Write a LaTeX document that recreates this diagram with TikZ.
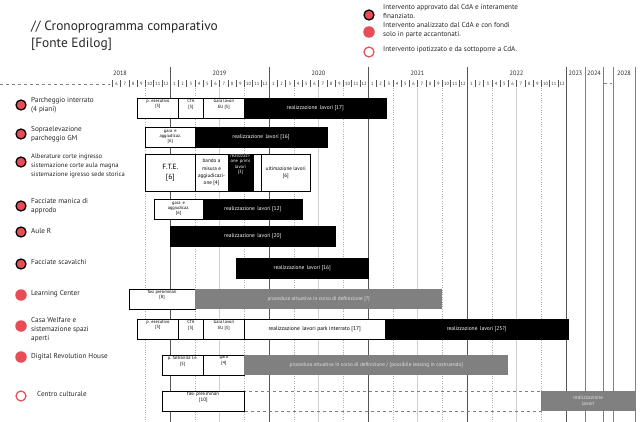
\documentclass[tikz,border=0pt]{standalone}
\usepackage{fontspec}
\setmainfont{PT Sans}
\definecolor{cred}{RGB}{232,76,86}
\definecolor{gbar}{RGB}{128,128,128}
\definecolor{gtext}{RGB}{225,225,225}
\definecolor{ygray}{RGB}{85,85,85}
\definecolor{lgray}{RGB}{175,175,175}
\begin{document}
\begin{tikzpicture}[x=1pt,y=-1pt,
  wbox/.style={draw=black, line width=0.6pt, fill=white, inner sep=0pt, align=center, anchor=west, font=\fontsize{4.5}{5.2}\selectfont, minimum height=20pt},
  bbox/.style={wbox, fill=black, text=white, font=\fontsize{5.5}{6.2}\selectfont},
  gbox/.style={draw=none, fill=gbar, inner sep=0pt, align=center, anchor=west, text=gtext, font=\fontsize{5.3}{6.2}\selectfont, minimum height=20pt},
  ttxt/.style={inner sep=0pt, align=center, anchor=north, font=\fontsize{4.5}{5.4}\selectfont},
  lab/.style={anchor=west, align=left, inner sep=0pt, font=\fontsize{7.2}{9}\selectfont, text=black!85},
  dotA/.style={circle, fill=cred, draw=black, line width=1.3pt, minimum size=10pt, inner sep=0pt},
  dotB/.style={circle, fill=cred, minimum size=11.5pt, inner sep=0pt},
  dotC/.style={circle, fill=white, draw=cred, line width=1.2pt, minimum size=10pt, inner sep=0pt},
  yline/.style={draw=ygray, line width=0.8pt},
  ylineB/.style={draw=gray, line width=0.9pt},
  qdot/.style={draw=lgray, line width=0.4pt, dotted},
  qsol/.style={draw=lgray!60, line width=0.5pt},
  mtick/.style={draw=ygray, line width=0.4pt},
  mlab/.style={inner sep=0pt, font=\fontsize{4.6}{5}\selectfont, text=black!80},
  ylab/.style={inner sep=0pt, font=\fontsize{6.3}{7}\selectfont, text=black!85}
]
\useasboundingbox (0,0) rectangle (640,422);
% title
\node[anchor=west, inner sep=0pt, font=\fontsize{13.4}{15}\selectfont, text=black!85] (title) at (31,27) {// Cronoprogramma comparativo};
\node[anchor=west, inner sep=0pt, font=\fontsize{13.4}{15}\selectfont, text=black!85] (source) at (31,44) {[Fonte Edilog]};
% legend
\node[dotA] (lg1) at (369,15) {};
\node[lab] (lt1) at (383,11) {Intervento approvato dal CdA e interamente\\finanziato.};
\node[dotB] (lg2) at (369,32) {};
\node[lab] (lt2) at (383,30) {Intervento analizzato dal CdA e con fondi\\solo in parte accantonati.};
\node[dotC] (lg3) at (369,52) {};
\node[lab] (lt3) at (383,50) {Intervento ipotizzato e da sottoporre a CdA.};
% grid
\draw[qdot] (145.25,88) -- (145.25,422);
\foreach \Y in {170,269,368,467}{
  \draw[qdot] ({\Y+24.75},88) -- ({\Y+24.75},422);
  \draw[qsol] ({\Y+49.5},88) -- ({\Y+49.5},422);
  \draw[qdot] ({\Y+74.25},88) -- ({\Y+74.25},422);
}
\foreach \X in {170,269,368,467,566}{
  \draw[yline] (\X,67) -- (\X,422);
}
\foreach \X in {585,603,613,635}{
  \draw[ylineB] (\X,67) -- (\X,422);
}
% header
\draw[dashed, gray, line width=0.5pt] (0,84) -- (110,84);
\draw[gray, line width=0.5pt, dash pattern=on 3pt off 3pt] (604,83) -- (612,83);
\foreach \m in {5,...,59}{
  \pgfmathtruncatemacro\mn{mod(\m,12)+1}
  \draw[mtick] ({71+8.25*\m},80.5) -- ++(0,6.5);
  \node[mlab] (mo\m) at ({75.4+8.25*\m},84) {\mn};
}
\node[ylab] (y2018) at (120,73) {2018};
\node[ylab] (y2019) at (219.5,73) {2019};
\node[ylab] (y2020) at (318.5,73) {2020};
\node[ylab] (y2021) at (417.5,73) {2021};
\node[ylab] (y2022) at (516.5,73) {2022};
\node[ylab] (y2023) at (575.5,73) {2023};
\node[ylab] (y2024) at (594,73) {2024};
\node[ylab] (y2028) at (624,73) {2028};
% row labels and dots
\node[dotA] (d1) at (21,105) {};
\node[lab] (l1) at (31,105) {Parcheggio interrato\\(4 piani)};
\node[dotA] (d2) at (21,134) {};
\node[lab] (l2) at (31,134) {Sopraelevazione\\parcheggio GM};
\node[dotA] (d3) at (21,162) {};
\node[lab, font=\fontsize{6.6}{9}\selectfont] (l3) at (31,166) {Alberature corte ingresso\\sistemazione corte aula magna\\sistemazione igresso sede storica};
\node[dotA] (d4) at (21,206) {};
\node[lab] (l4) at (31,206.5) {Facciate manica di\\approdo};
\node[dotA] (d5) at (21,232) {};
\node[lab] (l5) at (31,231) {Aule R};
\node[dotA] (d6) at (21,264) {};
\node[lab] (l6) at (31,262) {Facciate scavalchi};
\node[dotB] (d7) at (21,295) {};
\node[lab] (l7) at (31,294) {Learning Center};
\node[dotB] (d8) at (21,326) {};
\node[lab] (l8) at (31,330) {Casa Welfare e\\sistemazione spazi\\aperti};
\node[dotB] (d9) at (21,357) {};
\node[lab] (l9) at (31,357) {Digital Revolution House};
\node[dotC] (d10) at (21,396) {};
\node[lab] (l10) at (37,394) {Centro culturale};
% row 1
\node[wbox, minimum width=41.25pt] (r1a) at (137,108) {};
\node[ttxt] (r1at) at ([yshift=-1.5pt]r1a.north) {p. esecutivo\\{}[5]};
\node[wbox, minimum width=24.75pt] (r1b) at (178.25,108) {};
\node[ttxt] (r1bt) at ([yshift=-1.5pt]r1b.north) {CTA\\{}[3]};
\node[wbox, minimum width=41.25pt] (r1c) at (203,108) {};
\node[ttxt] (r1ct) at ([yshift=-1.5pt]r1c.north) {Gara lavori\\EU [5]};
\node[bbox, minimum width=141.5pt] (r1d) at (244.25,108) {realizzazione\, lavori [17]};
% row 2
\node[wbox, minimum width=49.5pt] (r2a) at (145.25,137) {gara\, e\\aggiudicaz.\\{}[6]};
\node[bbox, minimum width=132pt] (r2b) at (194.75,137) {realizzazione\, lavori [16]};
% row 3
\node[wbox, minimum width=49.5pt, minimum height=37pt, font=\fontsize{7.5}{10}\selectfont] (r3a) at (145.25,172.5) {F.T.E.\\{}[6]};
\node[wbox, minimum width=33pt, minimum height=37pt, font=\fontsize{5.2}{7.4}\selectfont] (r3b) at (194.75,172.5) {bando a\\misura e\\aggiudicazi-\\one [4]};
\node[bbox, minimum width=24.75pt, minimum height=37pt] (r3c) at (227.75,172.5) {};
\node[ttxt, text=white, font=\fontsize{4.6}{5.2}\selectfont] (r3ct) at ([yshift=-0.5pt]r3c.north) {realizzazi-\\one\, primi\\lavori\\{}[3]};
\node[wbox, minimum width=8.25pt, minimum height=37pt] (r3d) at (252.5,172.5) {};
\node[wbox, minimum width=49.5pt, minimum height=37pt, font=\fontsize{5.2}{7.4}\selectfont] (r3e) at (260.75,172.5) {ultimazione lavori\\{}[6]};
% row 4
\node[wbox, minimum width=49.5pt] (r4a) at (153.5,209) {gara\, e\\aggiudicaz.\\{}[6]};
\node[bbox, minimum width=99pt] (r4b) at (203,209) {realizzazione\, lavori [12]};
% row 5
\node[bbox, minimum width=165pt] (r5a) at (170,236.5) {realizzazione\, lavori [20]};
% row 6
\node[bbox, minimum width=132pt] (r6a) at (236,268) {realizzazione\, lavori [16]};
% row 7
\node[wbox, minimum width=66pt] (r7a) at (128.75,299) {};
\node[ttxt] (r7at) at ([yshift=-1pt]r7a.north) {fasi preliminari\\{}[8]};
\node[gbox, minimum width=247.5pt] (r7b) at (194.75,299) {procedura attuativa in corso di definizione [?]};
% row 8
\node[wbox, minimum width=41.25pt] (r8a) at (137,329) {};
\node[ttxt] (r8at) at ([yshift=-1.5pt]r8a.north) {p. esecutivo\\{}[5]};
\node[wbox, minimum width=24.75pt] (r8b) at (178.25,329) {};
\node[ttxt] (r8bt) at ([yshift=-1.5pt]r8b.north) {CTA\\{}[3]};
\node[wbox, minimum width=41.25pt] (r8c) at (203,329) {};
\node[ttxt] (r8ct) at ([yshift=-1.5pt]r8c.north) {Gara lavori\\EU [5]};
\node[wbox, minimum width=140.25pt, font=\fontsize{5.6}{6.2}\selectfont] (r8d) at (244.25,329) {realizzazione\, lavori park interrato [17]};
\node[bbox, minimum width=183.5pt] (r8e) at (384.5,329) {realizzazione\, lavori [25?]};
% row 9
\node[wbox, minimum width=41.25pt] (r9a) at (161.75,365) {};
\node[ttxt] (r9at) at ([yshift=-1.5pt]r9a.north) {p. fattibilit\`a t.e.\\{}[5]};
\node[wbox, minimum width=41.25pt] (r9b) at (203,365) {};
\node[ttxt] (r9bt) at ([yshift=-1.5pt]r9b.north) {gara\\{}[4]};
\node[gbox, minimum width=263.75pt] (r9c) at (244.25,365) {procedura attuativa in corso di definizione / [possibile leasing in costruendo]};
% row 10
\node[draw=gray, dashed, line width=0.6pt, minimum width=296.75pt, minimum height=20pt, inner sep=0pt, anchor=west] (r10b) at (244.25,401) {};
\node[wbox, minimum width=82.5pt] (r10a) at (161.75,401) {};
\node[ttxt, font=\fontsize{5}{6}\selectfont] (r10at) at ([yshift=-1pt]r10a.north) {fasi preliminari\\{}[10]};
\node[gbox, minimum width=94pt] (r10c) at (541,401) {realizzazione\\lavori};
\end{tikzpicture}
\end{document}
